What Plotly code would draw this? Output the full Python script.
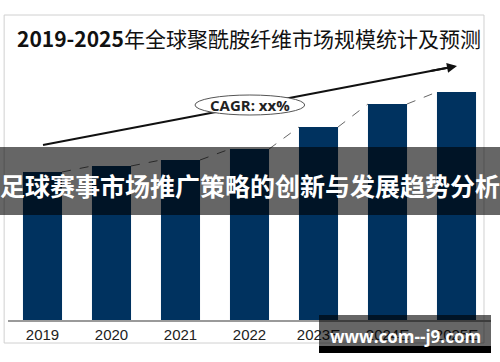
import plotly.graph_objects as go

years = ["2019", "2020", "2021", "2022", "2023E", "2024E", "2025E"]
market_size = [148, 154, 160, 171, 193, 216, 228]

title_text = "<b>2019-2025</b>年全球聚酰胺纤维市场规模统计及预测"
overlay_text = "足球赛事市场推广策略的创新与发展趋势分析"
watermark_text = "www.com--j9.com"
cagr_text = "CAGR: xx%"

bar_color = "#00325F"
half_w = 0.283

xs = list(range(len(years)))

fig = go.Figure()
fig.add_trace(go.Bar(x=xs, y=market_size, marker=dict(color=bar_color, line=dict(width=0)),
                     width=2 * half_w, hoverinfo="skip"))

# dashed connectors between bar tops
for i in range(len(years) - 1):
    fig.add_trace(go.Scatter(
        x=[xs[i] + half_w, xs[i + 1] - half_w],
        y=[market_size[i], market_size[i + 1]],
        mode="lines", line=dict(color="#666666", width=1, dash="dash"),
        hoverinfo="skip", showlegend=False))

shapes = []
# outer border
shapes.append(dict(type="rect", xref="paper", yref="paper", x0=-0.008, x1=0.9855, y0=-0.0885, y1=1.173,
                   line=dict(color="#d0d0d0", width=1), fillcolor="rgba(0,0,0,0)", layer="below"))
# trend arrow line
shapes.append(dict(type="line", xref="x", yref="y", x0=0.007, y0=175, x1=5.95, y1=253.3,
                   line=dict(color="#111111", width=2)))
# CAGR ellipse
shapes.append(dict(type="circle", xref="x", yref="y", x0=2.21, x1=3.80, y0=205, y1=225,
                   line=dict(color="#555555", width=1), fillcolor="white"))
# overlay band
shapes.append(dict(type="rect", xref="paper", yref="paper", x0=-0.02, x1=1.02,
                   y0=(320 - 215) / 260, y1=(320 - 147) / 260,
                   line=dict(width=0), fillcolor="rgba(0,0,0,0.6)", layer="above"))
# watermark box
shapes.append(dict(type="rect", xref="paper", yref="paper", x0=(319 - 8) / 483, x1=(491 - 8) / 483,
                   y0=(320 - 346) / 260, y1=(320 - 315) / 260,
                   line=dict(width=0), fillcolor="rgba(0,0,0,0.6)", layer="above"))
shapes.append(dict(type="rect", xref="paper", yref="paper", x0=(319 - 8) / 483, x1=(491 - 8) / 483,
                   y0=(320 - 353) / 260, y1=(320 - 346) / 260,
                   line=dict(width=0), fillcolor="black", layer="above"))

annotations = [
    dict(text=title_text, xref="paper", yref="paper", x=(249 - 8) / 483, y=(320 - 38) / 260,
         showarrow=False, xanchor="center", yanchor="middle",
         font=dict(family="Noto Sans CJK SC", size=21, color="#111111")),
    dict(text="<b>" + cagr_text + "</b>", xref="x", yref="y", x=3.005, y=215, showarrow=False,
         font=dict(family="Open Sans", size=15, color="#222222"), xanchor="center", yanchor="middle"),
    dict(text="", xref="x", yref="y", axref="x", ayref="y", x=6.007, y=254, ax=5.6, ay=248.7,
         showarrow=True, arrowhead=2, arrowsize=1, arrowwidth=2, arrowcolor="#111111"),
    dict(text="<b>" + overlay_text + "</b>", xref="paper", yref="paper", x=(250 - 8) / 483,
         y=(320 - 185) / 260, showarrow=False, xanchor="center", yanchor="middle",
         font=dict(family="Noto Sans CJK SC", size=25, color="white")),
    dict(text="<b>" + watermark_text + "</b>", xref="paper", yref="paper", x=(405 - 8) / 483,
         y=(320 - 336) / 260, showarrow=False, xanchor="center", yanchor="middle",
         font=dict(family="Open Sans", size=17, color="white")),
]

fig.update_layout(
    width=500, height=362,
    margin=dict(l=8, r=9, t=60, b=42),
    paper_bgcolor="white", plot_bgcolor="white",
    showlegend=False,
    bargap=0.435,
    shapes=shapes, annotations=annotations,
    xaxis=dict(range=[-0.5, 6.5], tickvals=xs, ticktext=years, showgrid=False, zeroline=False,
               showline=True, linecolor="#9a9a9a", linewidth=1.5,
               tickfont=dict(family="Liberation Sans", size=15, color="#222222"), fixedrange=True),
    yaxis=dict(range=[0, 260], visible=False, showgrid=False, fixedrange=True),
)

fig.write_html("out.html", config={"displayModeBar": False},
               post_script="document.body.style.margin='0';document.body.style.overflow='hidden';")
